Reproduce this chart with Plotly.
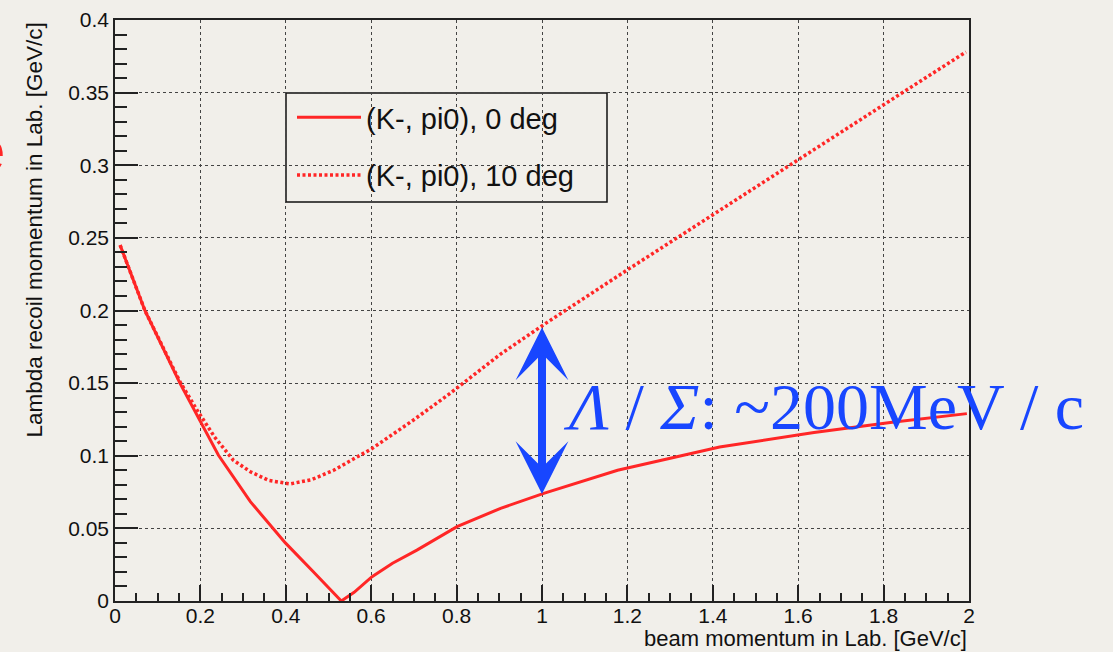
import numpy as np
import plotly.graph_objects as go

# ---- data ----
beam_p_0deg = [0.012, 0.07, 0.152, 0.242, 0.317, 0.399, 0.465, 0.53, 0.56, 0.602, 0.65,
               0.707, 0.801, 0.903, 1.004, 1.177, 1.416, 1.637, 1.82, 1.995]
recoil_0deg = [0.245, 0.2, 0.150, 0.1005, 0.0684, 0.040, 0.020, 0.0, 0.006, 0.0167, 0.026,
               0.035, 0.0512, 0.0638, 0.0741, 0.090, 0.106, 0.116, 0.123, 0.129]

beam_p_10deg = [0.012, 0.07, 0.152, 0.192, 0.233, 0.277, 0.317, 0.36, 0.41, 0.46, 0.512,
                0.602, 0.699, 0.785, 0.903, 1.013, 1.2, 1.308, 1.578, 1.841, 1.993]
recoil_10deg = [0.245, 0.2, 0.151, 0.1315, 0.113, 0.097, 0.089, 0.083, 0.0806, 0.0835, 0.090,
                0.105, 0.1246, 0.143, 0.170, 0.192, 0.228, 0.2485, 0.300, 0.3494, 0.378]

series_names = ["(K-, pi0), 0 deg", "(K-, pi0), 10 deg"]
x_title = "beam momentum in Lab. [GeV/c]"
y_title = "Lambda recoil momentum in Lab. [GeV/c]"
note_text = "<i>Λ</i> / <i>Σ</i>: ~200MeV / c"
arrow_at = 1.0

RED = "#ff2626"
BLUE = "#1846ff"
BG = "#f1efea"
FONT = "Liberation Sans, Arial, sans-serif"

fig = go.Figure()
fig.add_trace(go.Scatter(x=beam_p_0deg, y=recoil_0deg, mode="lines", name=series_names[0],
                         line=dict(color=RED, width=3), legendgroup="a"))
fig.add_trace(go.Scatter(x=beam_p_10deg, y=recoil_10deg, mode="lines", name=series_names[1],
                         line=dict(color=RED, width=3.5, dash="3px,2.5px"), legendgroup="b"))

axis_common = dict(showline=True, linecolor="#222", linewidth=1.5, mirror=True,
                   ticks="inside", tickcolor="#222", tickwidth=1.5, automargin=False,
                   showgrid=True, gridcolor="#444", gridwidth=1, griddash="dot",
                   zeroline=False, tickfont=dict(family=FONT, size=21, color="#111"))

fig.update_xaxes(range=[0, 2], dtick=0.2, tick0=0, ticklen=16, ticklabelstandoff=-5,
                 minor=dict(dtick=0.05, ticklen=8, ticks="inside", tickcolor="#222", showgrid=False),
                 **axis_common)
fig.update_yaxes(range=[0, 0.4], dtick=0.05, tick0=0, ticklen=23,
                 minor=dict(dtick=0.01, ticklen=12, ticks="inside", tickcolor="#222", showgrid=False),
                 **axis_common)

y_top = float(np.interp(arrow_at, beam_p_10deg, recoil_10deg))
y_bot = float(np.interp(arrow_at, beam_p_0deg, recoil_0deg))

annotations = [
    dict(text=x_title, xref="paper", yref="paper", x=1.0, y=-0.064, xanchor="right",
         yanchor="middle", showarrow=False, font=dict(family=FONT, size=22, color="#111")),
    dict(text=y_title, xref="paper", yref="paper", x=-0.0937, y=1.0, xanchor="center",
         yanchor="top", textangle=-90, showarrow=False,
         font=dict(family=FONT, size=22.5, color="#111")),
    dict(text=note_text, xref="x", yref="y", x=1.045, y=0.134, xanchor="left",
         yanchor="middle", showarrow=False,
         font=dict(family="Liberation Serif, Times New Roman, serif", size=66, color=BLUE)),
    dict(text="", xref="x", yref="y", axref="x", ayref="y", x=arrow_at, y=y_bot,
         ax=arrow_at, ay=y_top, showarrow=True, arrowside="end+start", arrowhead=3,
         startarrowhead=3, arrowsize=1.1, startarrowsize=1.1, arrowwidth=8,
         arrowcolor=BLUE, standoff=0, startstandoff=0),
    dict(text="e", xref="paper", yref="paper", x=(7 - 115) / 854, y=(601 - 150) / 581,
         xanchor="right", yanchor="middle", showarrow=False,
         font=dict(family="Liberation Sans, Arial", size=60, color=RED)),
]

fig.update_layout(
    width=1113, height=652,
    margin=dict(l=115, r=144, t=20, b=51, autoexpand=False),
    paper_bgcolor=BG, plot_bgcolor=BG,
    showlegend=True,
    legend=dict(x=(292 - 115) / 854, y=(601 - 92) / 581, xanchor="left", yanchor="top",
                bgcolor="rgba(0,0,0,0)", borderwidth=0, itemwidth=64,
                tracegroupgap=17, traceorder="grouped",
                font=dict(family=FONT, size=29, color="#111")),
    shapes=[dict(type="rect", xref="paper", yref="paper",
                 x0=(286 - 115) / 854, x1=(607 - 115) / 854,
                 y0=(601 - 202) / 581, y1=(601 - 93) / 581,
                 line=dict(color="#111", width=1.5), fillcolor=BG, layer="below")],
    annotations=annotations,
)

fig.write_html("out.html", config={"displayModeBar": False},
               post_script="document.body.style.margin='0';document.body.style.background='%s';" % BG)
